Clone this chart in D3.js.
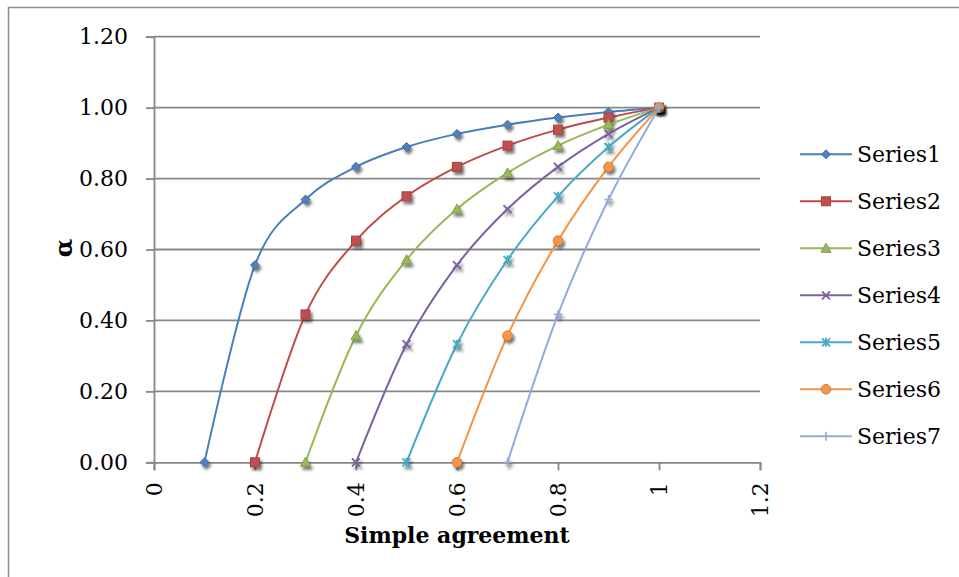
<!DOCTYPE html>
<html>
<head>
<meta charset="utf-8">
<script src="https://cdn.jsdelivr.net/npm/d3@7"></script>
<style>
  html, body { margin: 0; padding: 0; background: #fff; }
  svg { display: block; }
  text { font-family: "DejaVu Serif", "Liberation Serif", serif; fill: #000; }
</style>
</head>
<body>
<svg id="chart" width="959" height="577"></svg>
<script>
// Simple agreement (x) against alpha (y), one series per starting point
const xValues = [0.1, 0.2, 0.3, 0.4, 0.5, 0.6, 0.7, 0.8, 0.9, 1.0];
const seriesNames = ["Series1", "Series2", "Series3", "Series4", "Series5", "Series6", "Series7"];
const series1 = [0, 0.556, 0.741, 0.833, 0.889, 0.926, 0.952, 0.972, 0.988, 1.0];
const series2 = [null, 0, 0.417, 0.625, 0.750, 0.833, 0.893, 0.938, 0.972, 1.0];
const series3 = [null, null, 0, 0.357, 0.571, 0.714, 0.816, 0.893, 0.952, 1.0];
const series4 = [null, null, null, 0, 0.333, 0.556, 0.714, 0.833, 0.926, 1.0];
const series5 = [null, null, null, null, 0, 0.333, 0.571, 0.750, 0.889, 1.0];
const series6 = [null, null, null, null, null, 0, 0.357, 0.625, 0.833, 1.0];
const series7 = [null, null, null, null, null, null, 0, 0.417, 0.741, 1.0];
const seriesValues = [series1, series2, series3, series4, series5, series6, series7];
const xTicks = [0, 0.2, 0.4, 0.6, 0.8, 1, 1.2];
const yTicks = [0, 0.2, 0.4, 0.6, 0.8, 1.0, 1.2];
const xTitle = "Simple agreement";
const yTitle = "α";

const lineColors = ["#4A7EBB", "#BE4B48", "#98B954", "#7D60A0", "#46AAC5", "#F69240", "#92ACD9"];
const markerFill = ["#4F81BD", "#C0504D", "#9BBB59", "#8064A2", "#4BACC6", "#F79646", "#95B3D7"];
const markerKinds = ["diamond", "square", "triangle", "x", "star", "circle", "plus"];

const svg = d3.select("#chart");

// shadow under the data markers
const defs = svg.append("defs");
const f = defs.append("filter").attr("id", "shadow")
  .attr("x", "-100%").attr("y", "-100%").attr("width", "300%").attr("height", "300%");
f.append("feGaussianBlur").attr("in", "SourceAlpha").attr("stdDeviation", 1.8).attr("result", "b");
f.append("feOffset").attr("in", "b").attr("dx", 1.5).attr("dy", 3).attr("result", "o");
f.append("feComponentTransfer").attr("in", "o").attr("result", "s")
  .append("feFuncA").attr("type", "linear").attr("slope", 0.55);
const m = f.append("feMerge");
m.append("feMergeNode").attr("in", "s");
m.append("feMergeNode").attr("in", "SourceGraphic");

// outer chart frame
svg.append("rect").attr("x", 8.5).attr("y", 7.5).attr("width", 1000).attr("height", 1000)
  .attr("fill", "none").attr("stroke", "#8c8c8c").attr("stroke-width", 1.5);

const x = d3.scaleLinear().domain([0, 1.2]).range([154, 760]);
const y = d3.scaleLinear().domain([0, 1.2]).range([462.3, 36.7]);

const axisColor = "#878787";

// horizontal gridlines
svg.append("g").selectAll("line").data(yTicks.slice(1)).join("line")
  .attr("x1", x(0)).attr("x2", x(1.2))
  .attr("y1", d => y(d)).attr("y2", d => y(d))
  .attr("stroke", axisColor).attr("stroke-width", 1.8);

// y axis
const yAxis = svg.append("g").attr("transform", `translate(${x(0)},0)`)
  .call(d3.axisLeft(y).tickValues(yTicks).tickFormat(d3.format(".2f")).tickSize(8).tickPadding(18));
yAxis.select(".domain").attr("stroke", axisColor).attr("stroke-width", 1.8);
yAxis.selectAll(".tick line").attr("stroke", axisColor).attr("stroke-width", 1.8);
yAxis.selectAll(".tick text").attr("font-size", 22).attr("font-family", "DejaVu Serif").attr("fill", "#000");

// x axis
const xAxis = svg.append("g").attr("transform", `translate(0,${y(0)})`)
  .call(d3.axisBottom(x).tickValues(xTicks).tickFormat(d => String(d)).tickSize(8));
xAxis.select(".domain").attr("stroke", axisColor).attr("stroke-width", 1.8);
xAxis.selectAll(".tick line").attr("stroke", axisColor).attr("stroke-width", 1.8);
xAxis.selectAll(".tick text")
  .attr("font-size", 22).attr("font-family", "DejaVu Serif").attr("fill", "#000")
  .attr("transform", "rotate(-90)")
  .attr("text-anchor", "end")
  .attr("x", -20).attr("y", 0).attr("dy", "0.35em");

// axis titles
svg.append("text").attr("x", 457).attr("y", 543).attr("text-anchor", "middle")
  .attr("font-size", 22).attr("font-weight", "bold").text(xTitle);
svg.append("text").attr("transform", "translate(64,248) rotate(-90)")
  .attr("text-anchor", "middle").attr("dy", "0.35em")
  .attr("font-size", 24).attr("font-weight", "bold").text(yTitle);

// marker drawing
function drawMarker(g, kind, fill, stroke) {
  if (kind === "diamond") {
    g.append("path").attr("d", "M0,-4.5L4.5,0L0,4.5L-4.5,0Z").attr("fill", fill).attr("stroke", stroke).attr("stroke-width", 1);
  } else if (kind === "square") {
    g.append("rect").attr("x", -4.5).attr("y", -4.5).attr("width", 9).attr("height", 9)
      .attr("fill", fill).attr("stroke", stroke).attr("stroke-width", 1);
  } else if (kind === "triangle") {
    g.append("path").attr("d", "M0,-5L5,4L-5,4Z").attr("fill", fill).attr("stroke", stroke).attr("stroke-width", 1);
  } else if (kind === "circle") {
    g.append("circle").attr("r", 4.8).attr("fill", fill).attr("stroke", stroke).attr("stroke-width", 1);
  } else if (kind === "x") {
    g.append("path").attr("d", "M-4,-4L4,4M-4,4L4,-4").attr("stroke", stroke).attr("stroke-width", 1.8).attr("fill", "none");
  } else if (kind === "star") {
    g.append("path").attr("d", "M-4,-4L4,4M-4,4L4,-4M0,-4.5L0,4.5").attr("stroke", stroke).attr("stroke-width", 1.8).attr("fill", "none");
  } else if (kind === "plus") {
    g.append("path").attr("d", "M-4,0L4,0M0,-4.5L0,4.5").attr("stroke", stroke).attr("stroke-width", 1.6).attr("fill", "none");
  }
}

const line = d3.line()
  .defined(d => d[1] !== null)
  .x(d => x(d[0])).y(d => y(d[1]))
  .curve(d3.curveCardinal.tension(0));

seriesValues.forEach((vals, i) => {
  const pts = xValues.map((xv, j) => [xv, vals[j]]).filter(d => d[1] !== null);
  const g = svg.append("g");
  g.append("path").datum(pts).attr("d", line)
    .attr("fill", "none").attr("stroke", lineColors[i]).attr("stroke-width", 2);
  const stroke = d3.color(markerFill[i]).darker(0.5).formatHex();
  g.selectAll("g.mk").data(pts).join("g").attr("class", "mk")
    .attr("transform", d => `translate(${x(d[0])},${y(d[1])})`)
    .attr("filter", "url(#shadow)")
    .each(function () {
      const mk = d3.select(this);
      const kind = markerKinds[i];
      const lineLike = kind === "x" || kind === "star" || kind === "plus";
      drawMarker(mk, kind, markerFill[i], lineLike ? lineColors[i] : stroke);
    });
});

// legend
const legend = svg.append("g");
seriesNames.forEach((name, i) => {
  const ly = 154.3 + i * 47;
  const row = legend.append("g").attr("transform", `translate(0,${ly})`);
  row.append("line").attr("x1", 800).attr("x2", 852).attr("y1", 0).attr("y2", 0)
    .attr("stroke", lineColors[i]).attr("stroke-width", 2);
  const mk = row.append("g").attr("transform", "translate(826,0)");
  const kind = markerKinds[i];
  const lineLike = kind === "x" || kind === "star" || kind === "plus";
  drawMarker(mk, kind, markerFill[i], lineLike ? lineColors[i] : d3.color(markerFill[i]).darker(0.5).formatHex());
  row.append("text").attr("x", 857).attr("y", 0).attr("dy", "0.35em")
    .attr("font-size", 22).text(name);
});
</script>
</body>
</html>
